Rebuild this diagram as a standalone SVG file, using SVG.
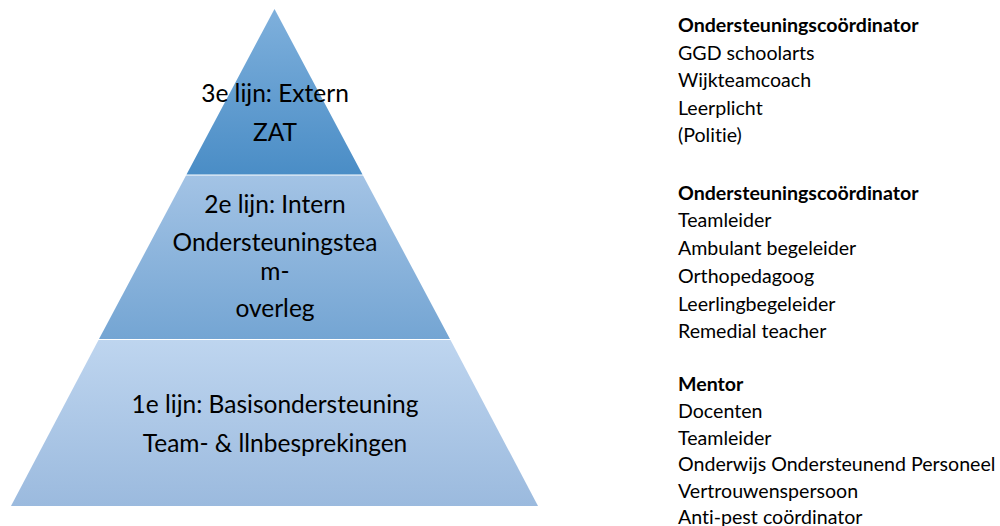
<svg xmlns="http://www.w3.org/2000/svg" width="1000" height="526" viewBox="0 0 1000 526">
<defs>
<linearGradient id="g3" x1="0" y1="0" x2="0" y2="1">
<stop offset="0" stop-color="#7fb0dc"/>
<stop offset="1" stop-color="#4a8dc6"/>
</linearGradient>
<linearGradient id="g2" x1="0" y1="0" x2="0" y2="1">
<stop offset="0" stop-color="#a3c3e5"/>
<stop offset="1" stop-color="#74a5d3"/>
</linearGradient>
<linearGradient id="g1" x1="0" y1="0" x2="0" y2="1">
<stop offset="0" stop-color="#bed5ef"/>
<stop offset="1" stop-color="#9bbade"/>
</linearGradient>
</defs>
<style>
text{font-variant-ligatures:none;font-feature-settings:"liga" 0,"clig" 0}
.pt{font-family:Lato,"Liberation Sans",sans-serif;font-size:24.5px;fill:#000;text-anchor:middle}
.rt{font-family:Lato,"Liberation Sans",sans-serif;font-size:19.6px;fill:#000}
.b{font-weight:bold}
</style>
<rect width="1000" height="526" fill="#fff"/>
<g id="level3">
<polygon points="274.5,9 362.5,174.5 186.5,174.5" fill="url(#g3)"/>
<text class="pt" x="275" y="102">3e lijn: Extern</text>
<text class="pt" x="275" y="141">ZAT</text>
</g>
<g id="level2">
<polygon points="186,175.5 363,175.5 450,339 99,339" fill="url(#g2)"/>
<text class="pt" x="275" y="213">2e lijn: Intern</text>
<text class="pt" x="275" y="251">Ondersteuningstea</text>
<text class="pt" x="275" y="280">m-</text>
<text class="pt" x="275" y="317">overleg</text>
</g>
<g id="level1">
<polygon points="98.5,340 450.5,340 538,506 11,506" fill="url(#g1)"/>
<text class="pt" x="275" y="413">1e lijn: Basisondersteuning</text>
<text class="pt" x="275" y="452">Team- &amp; llnbesprekingen</text>
</g>
<g id="list3">
<text class="rt b" x="678" y="32">Ondersteuningscoördinator</text>
<text class="rt" x="678" y="60">GGD schoolarts</text>
<text class="rt" x="678" y="87">Wijkteamcoach</text>
<text class="rt" x="678" y="115">Leerplicht</text>
<text class="rt" x="678" y="142">(Politie)</text>
</g>
<g id="list2">
<text class="rt b" x="678" y="200">Ondersteuningscoördinator</text>
<text class="rt" x="678" y="227">Teamleider</text>
<text class="rt" x="678" y="255">Ambulant begeleider</text>
<text class="rt" x="678" y="283">Orthopedagoog</text>
<text class="rt" x="678" y="311">Leerlingbegeleider</text>
<text class="rt" x="678" y="338">Remedial teacher</text>
</g>
<g id="list1">
<text class="rt b" x="678" y="391">Mentor</text>
<text class="rt" x="678" y="418">Docenten</text>
<text class="rt" x="678" y="445">Teamleider</text>
<text class="rt" x="678" y="471">Onderwijs Ondersteunend Personeel</text>
<text class="rt" x="678" y="498">Vertrouwenspersoon</text>
<text class="rt" x="678" y="524">Anti-pest coördinator</text>
</g>
<g id="connectors"/>
</svg>
